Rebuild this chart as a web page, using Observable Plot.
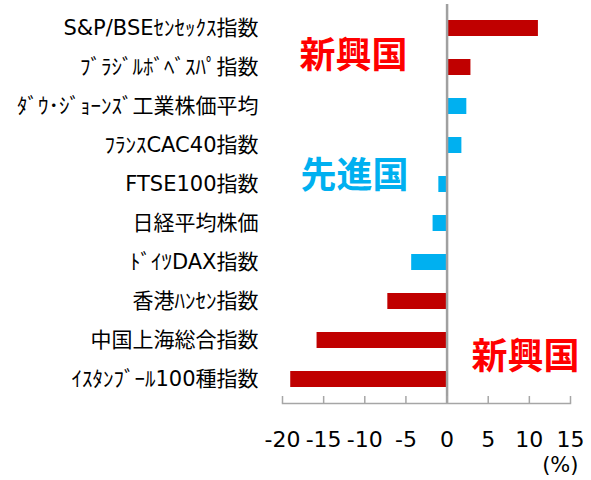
<!DOCTYPE html>
<html><head><meta charset="utf-8">
<script src="https://cdn.jsdelivr.net/npm/d3@7"></script>
<script src="https://cdn.jsdelivr.net/npm/@observablehq/plot@0.6"></script>
<style>body{margin:0;background:#fff} svg{display:block}</style>
</head><body><div id="chart"></div>
<script>
const categories = [
  "S&P/BSEｾﾝｾｯｸｽ指数",
  "ﾌﾞﾗｼﾞﾙﾎﾞﾍﾞｽﾊﾟ指数",
  "ﾀﾞｳ･ｼﾞｮｰﾝｽﾞ工業株価平均",
  "ﾌﾗﾝｽCAC40指数",
  "FTSE100指数",
  "日経平均株価",
  "ﾄﾞｲﾂDAX指数",
  "香港ﾊﾝｾﾝ指数",
  "中国上海総合指数",
  "ｲｽﾀﾝﾌﾞｰﾙ100種指数"
];
const values = [11.1, 2.9, 2.4, 1.8, -1.0, -1.7, -4.3, -7.2, -15.8, -19.0];
const groups = ["新興国","新興国","先進国","先進国","先進国","先進国","先進国","新興国","新興国","新興国"];
const groupNames = ["新興国", "先進国"];
const xTicks = [-20, -15, -10, -5, 0, 5, 10, 15];
const unitLabel = "(%)";

const data = categories.map((name, i) => ({name, value: values[i], group: groups[i]}));

const chart = Plot.plot({
  width: 591, height: 480,
  marginLeft: 282, marginRight: 21, marginTop: 4, marginBottom: 77,
  style: {fontFamily: '"DejaVu Sans","Noto Sans CJK JP",sans-serif', fontSize: "21px", color: "#000", background: "#fff", overflow: "visible"},
  x: {domain: [-20, 15], ticks: xTicks},
  y: {domain: categories, paddingInner: 0.6, paddingOuter: 0.3},
  color: {domain: groupNames, range: ["#c00000", "#00b0f0"]},
  marks: [
    Plot.barX(data, {x: "value", y: "name", fill: "group"}),
    Plot.ruleX([0], {stroke: "#a0a0a0", strokeWidth: 2.5}),
    Plot.frame({anchor: "bottom", stroke: "#a6a6a6", strokeWidth: 1.5}),
    Plot.axisX(xTicks, {anchor: "bottom", tickSize: -7, tickPadding: 35, tickFormat: d => String(d), stroke: "#a6a6a6", strokeWidth: 1.5, fill: "#000", fontSize: 22, label: null}),
    Plot.axisY({tickSize: 0, tickPadding: 24, label: null, fontSize: 21, fill: "#000"}),
    Plot.text([unitLabel], {frameAnchor: "bottom-right", text: d => d, dx: 8, dy: 68, textAnchor: "end", fontSize: 21, fill: "#000"}),
    Plot.text([groupNames[0]], {frameAnchor: "top-left", text: d => d, dx: 71, dy: 38, textAnchor: "middle", fontSize: 36, fontWeight: "bold", fontFamily: '"Noto Sans CJK JP",sans-serif', fill: "#ff0000"}),
    Plot.text([groupNames[1]], {frameAnchor: "top-left", text: d => d, dx: 72, dy: 158, textAnchor: "middle", fontSize: 36, fontWeight: "bold", fontFamily: '"Noto Sans CJK JP",sans-serif', fill: "#00b0f0"}),
    Plot.text([groupNames[0]], {frameAnchor: "top-left", text: d => d, dx: 243, dy: 338.5, textAnchor: "middle", fontSize: 36, fontWeight: "bold", fontFamily: '"Noto Sans CJK JP",sans-serif', fill: "#ff0000"})
  ]
});
document.getElementById("chart").appendChild(chart);
</script>
</body></html>
